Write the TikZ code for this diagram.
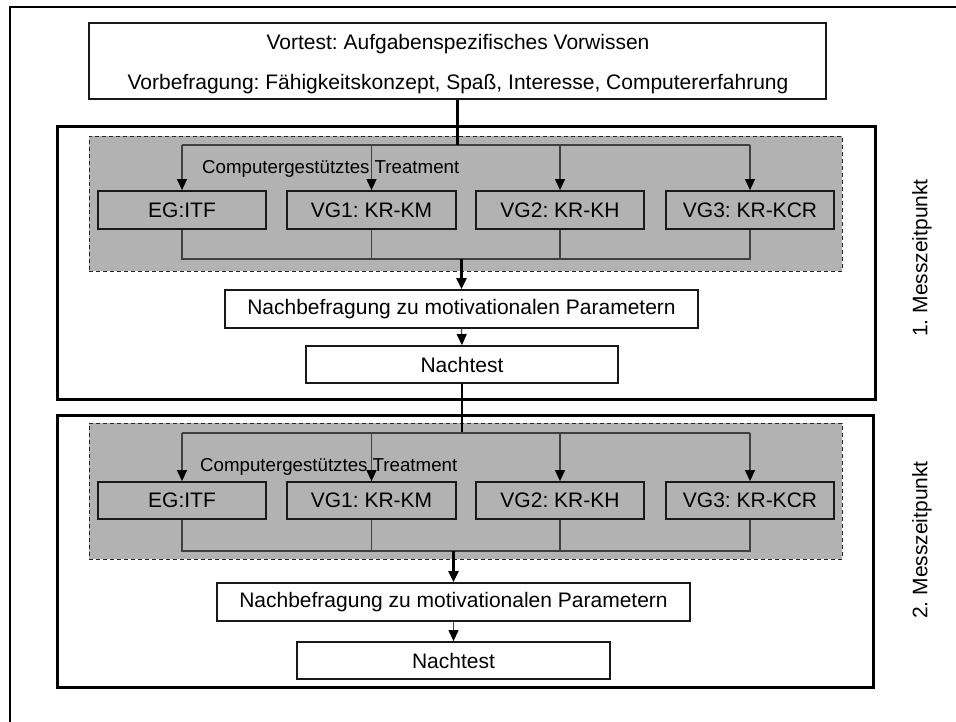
\documentclass[tikz,border=0pt]{standalone}
\usepackage{fontspec}
\setmainfont{Liberation Sans}
\usetikzlibrary{arrows.meta}
\definecolor{grayfill}{RGB}{178,178,178}
\definecolor{linegray}{RGB}{64,64,64}
\frenchspacing
\begin{document}
\begin{tikzpicture}[x=1pt,y=-1pt,
  box/.style={draw=black!90, line width=1.8pt, fill=white, inner sep=0pt, font=\fontsize{21}{25}\selectfont},
  gbox/.style={box, fill=grayfill},
  frame/.style={draw=black, line width=3pt, inner sep=0pt},
  region/.style={draw=black!85, dash pattern=on 4pt off 3pt, line width=0.8pt, fill=grayfill, inner sep=0pt},
  txt/.style={inner sep=0pt, font=\fontsize{21}{25}\selectfont},
  smalltxt/.style={inner sep=0pt, font=\fontsize{18.7}{22}\selectfont},
  thinln/.style={draw=linegray, line width=1.2pt},
  thickln/.style={draw=black, line width=2.2pt},
  tip/.style={-{Triangle[width=10pt,length=11pt,color=black]}},
]
\useasboundingbox (0,0) rectangle (956,722);
\fill[white] (0,0) rectangle (956,722);
% outer border
\draw[line width=1.8pt] (10,722) -- (10,7) -- (956,7);

% top box
\node[box, minimum width=737pt, minimum height=76pt] (top) at (457.5,61) {};
\node[txt, anchor=base] (l1) at (458,50) {Vortest: Aufgabenspezifisches Vorwissen};
\node[txt, anchor=base] (l2) at (458,90) {Vorbefragung: Fähigkeitskonzept, Spaß, Interesse, Computererfahrung};

% frames
\node[frame, minimum width=818pt, minimum height=272pt] (fr1) at (466,263) {};
\node[frame, minimum width=816pt, minimum height=272pt] (fr2) at (465,551) {};

% gray regions
\node[region, minimum width=753pt, minimum height=135pt] (rg1) at (465.5,203.5) {};
\node[region, minimum width=753pt, minimum height=136pt] (rg2) at (465.5,491) {};

% labels
\node[smalltxt, anchor=base west] (tr1) at (202,174) {Computergestütztes Treatment};
\node[smalltxt, anchor=base west] (tr2) at (200,471) {Computergestütztes Treatment};
\node[txt, rotate=90] (m1) at (922,258) {1. Messzeitpunkt};
\node[txt, rotate=90] (m2) at (922,540) {2. Messzeitpunkt};

% section 1 boxes
\node[gbox, minimum width=168pt, minimum height=38pt] (eg1) at (182,210) {EG:ITF};
\node[gbox, minimum width=169pt, minimum height=38pt] (vga1) at (371.5,210) {VG1: KR-KM};
\node[gbox, minimum width=168pt, minimum height=38pt] (vgb1) at (560,210) {VG2: KR-KH};
\node[gbox, minimum width=168pt, minimum height=38pt] (vgc1) at (750,210) {VG3: KR-KCR};
\node[box, minimum width=473pt, minimum height=38pt] (nb1) at (461.5,309) {Nachbefragung zu motivationalen Parametern};
\node[box, minimum width=312pt, minimum height=37pt] (nt1) at (462,364.5) {Nachtest};

% section 2 boxes
\node[gbox, minimum width=168pt, minimum height=37pt] (eg2) at (182,500.5) {EG:ITF};
\node[gbox, minimum width=169pt, minimum height=37pt] (vga2) at (371.5,500.5) {VG1: KR-KM};
\node[gbox, minimum width=168pt, minimum height=37pt] (vgb2) at (560,500.5) {VG2: KR-KH};
\node[gbox, minimum width=168pt, minimum height=37pt] (vgc2) at (750,500.5) {VG3: KR-KCR};
\node[box, minimum width=473pt, minimum height=38pt] (nb2) at (453.5,602) {Nachbefragung zu motivationalen Parametern};
\node[box, minimum width=313pt, minimum height=37pt] (nt2) at (453.5,660.5) {Nachtest};

% bus coordinates
\coordinate (t1) at (0,145);
\coordinate (b1) at (0,259);
\coordinate (t2) at (0,433);
\coordinate (b2) at (0,551);

% section 1 connectors
\draw[thinln] (eg1.north |- t1) -- (vgc1.north |- t1);
\draw[thickln] (top.south) -- (top.south |- t1);
\draw[thinln, tip] (eg1.north |- t1) -- (eg1.north);
\draw[thinln, tip] (vga1.north |- t1) -- (vga1.north);
\draw[thinln, tip] (vgb1.north |- t1) -- (vgb1.north);
\draw[thinln, tip] (vgc1.north |- t1) -- (vgc1.north);
\draw[thinln] (eg1.south) -- (eg1.south |- b1) -- (vgc1.south |- b1) -- (vgc1.south);
\draw[thinln] (vga1.south) -- (vga1.south |- b1);
\draw[thinln] (vgb1.south) -- (vgb1.south |- b1);
\draw[thickln, tip] (nb1.north |- b1) -- (nb1.north);
\draw[thinln, tip] (nb1.south) -- (nt1.north);

% between sections
\draw[thickln] (nt1.south) -- (nt1.south |- t2);

% section 2 connectors
\draw[thinln] (eg2.north |- t2) -- (vgc2.north |- t2);
\draw[thinln, tip] (eg2.north |- t2) -- (eg2.north);
\draw[thinln, tip] (vga2.north |- t2) -- (vga2.north);
\draw[thinln, tip] (vgb2.north |- t2) -- (vgb2.north);
\draw[thinln, tip] (vgc2.north |- t2) -- (vgc2.north);
\draw[thinln] (eg2.south) -- (eg2.south |- b2) -- (vgc2.south |- b2) -- (vgc2.south);
\draw[thinln] (vga2.south) -- (vga2.south |- b2);
\draw[thinln] (vgb2.south) -- (vgb2.south |- b2);
\draw[thickln, tip] (nb2.north |- b2) -- (nb2.north);
\draw[thinln, tip] (nb2.south) -- (nt2.north);
\end{tikzpicture}
\end{document}
